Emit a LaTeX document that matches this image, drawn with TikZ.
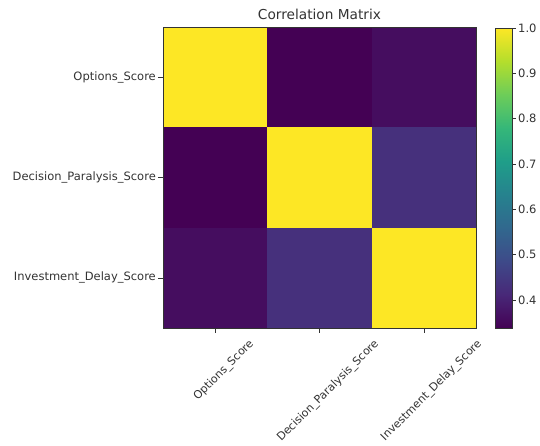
\documentclass[tikz,border=0pt]{standalone}
\usepackage{fontspec}
\setmainfont{DejaVu Sans}

% viridis steps
\definecolor{vir0}{HTML}{440154}
\definecolor{vir1}{HTML}{482878}
\definecolor{vir2}{HTML}{3E4A89}
\definecolor{vir3}{HTML}{31688E}
\definecolor{vir4}{HTML}{26828E}
\definecolor{vir5}{HTML}{1F9E89}
\definecolor{vir6}{HTML}{35B779}
\definecolor{vir7}{HTML}{6DCD59}
\definecolor{vir8}{HTML}{B4DE2C}
\definecolor{vir9}{HTML}{FDE725}
\colorlet{cdiag}{vir9}
\colorlet{cmin}{vir0}
\colorlet{clow}{vir0!70!vir1}
\colorlet{cmid}{vir1!75!vir2}

\pgfdeclareverticalshading{viridisbar}{100bp}{color(0bp)=(vir0); color(25bp)=(vir0);
  color(30.56bp)=(vir1); color(36.11bp)=(vir2); color(41.67bp)=(vir3);
  color(47.22bp)=(vir4); color(52.78bp)=(vir5); color(58.33bp)=(vir6);
  color(63.89bp)=(vir7); color(69.44bp)=(vir8); color(75bp)=(vir9); color(100bp)=(vir9)}

\begin{document}
\begin{tikzpicture}[x=1pt, y=-1pt, font=\fontsize{11.5}{13}\selectfont, text=black!80,
  frame/.style={line width=0.7pt, draw=black!80}]
\useasboundingbox (0,0) rectangle (540,445);
% cells
\foreach \i/\j/\c in {0/0/cdiag,0/1/cmin,0/2/clow,1/0/cmin,1/1/cdiag,1/2/cmid,2/0/clow,2/1/cmid,2/2/cdiag}
    \fill[\c] ({163+\j*104.33},{27+\i*100.33}) rectangle ++(104.33,100.33);
\draw[frame] (163,27) rectangle (476,328);
% title
\node[font=\fontsize{13.7}{16}\selectfont] (title) at (319.5,14) {Correlation Matrix};
% y ticks
\foreach \lab [count=\i from 0] in {Options\_Score,Decision\_Paralysis\_Score,Investment\_Delay\_Score}
    \draw[black!80] (163,{77.2+\i*100.33}) -- ++(-5,0) node[left, inner sep=2pt, text=black!80] (ylab\i) {\lab};
% x ticks
\foreach \lab/\xe [count=\i from 0] in {Options\_Score/248,Decision\_Paralysis\_Score/373,Investment\_Delay\_Score/476}
{
    \draw[black!80] ({215.2+\i*104.33},328) -- ++(0,5);
    \node[rotate=45, anchor=north east, inner sep=0pt, font=\fontsize{11.1}{13}\selectfont] (xlab\i) at (\xe,338) {\lab};
}
% colorbar
\shade[shading=viridisbar] (495,28) rectangle (512,328);
\draw[frame] (495,28) rectangle (512,328);
\foreach \lab [count=\i] in {0.4,0.5,0.6,0.7,0.8,0.9,1.0}
    \draw[black!80] (512,{328-(\lab-0.338)*453.2}) -- ++(4,0) node[right, inner sep=2pt, text=black!80] (cbar\i) {\lab};
\end{tikzpicture}
\end{document}
